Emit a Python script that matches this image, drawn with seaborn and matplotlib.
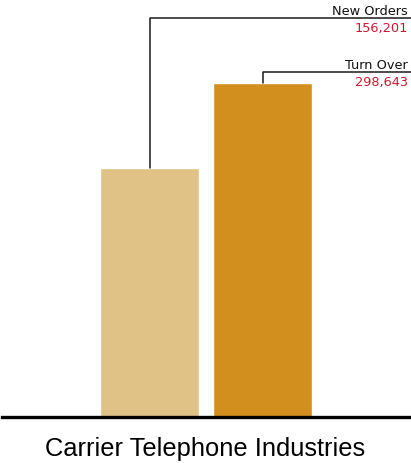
import matplotlib
matplotlib.use("Agg")
import matplotlib.pyplot as plt
import pandas as pd
import seaborn as sns

# Data
metrics = ["New Orders", "Turn Over"]
values = [156201, 298643]
company = "Carrier Telephone Industries"

bar_colors = ["#E0C186", "#D38F1E"]
value_color = "#CF1630"
line_color = "#1a1a1a"

sns.set_theme(style="white")
plt.rcParams["font.family"] = ["DejaVu Sans"]

df = pd.DataFrame({"metric": metrics, "value": values})

fig = plt.figure(figsize=(4.11, 4.63), dpi=100)
ax = fig.add_axes([2 / 411, (463 - 416.5) / 463, 407 / 411, 416.5 / 463])
ax.set_yscale("log")

sns.barplot(data=df, x="metric", y="value", hue="metric", palette=bar_colors,
            width=0.875, saturation=1, legend=False, ax=ax)

ax.set_xlim(-1.303, 2.292)
ax.set_ylim(23500, 562000)

for s in ["left", "right", "top"]:
    ax.spines[s].set_visible(False)
ax.spines["bottom"].set_color("black")
ax.spines["bottom"].set_linewidth(2.4)
ax.set_xticks([])
ax.set_yticks([])
ax.minorticks_off()
ax.set_xlabel("")
ax.set_ylabel("")

# Callouts: leader line from each bar top to a label at the right edge
label_rows = [0.9568, 0.8271]
for i, (name, val, yrow) in enumerate(zip(metrics, values, label_rows)):
    ax.annotate("", xy=(i, val), xycoords="data",
                xytext=(1.006, yrow), textcoords="axes fraction",
                arrowprops=dict(arrowstyle="-", color=line_color, lw=1.1,
                                shrinkA=0, shrinkB=0,
                                connectionstyle="angle,angleA=0,angleB=90,rad=0"),
                annotation_clip=False)
    ax.annotate(name, xy=(0.9975, yrow), xycoords="axes fraction",
                xytext=(0, 2.3), textcoords="offset points",
                ha="right", va="baseline", fontsize=9.3, color="#111111")
    ax.annotate(f"{val:,}", xy=(0.9975, yrow), xycoords="axes fraction",
                xytext=(0, -3.0), textcoords="offset points",
                ha="right", va="top", fontsize=9.3, color=value_color)

fig.text(205 / 411, (463 - 455.7) / 463, company, ha="center", va="baseline",
         fontsize=18.4, family=["Liberation Sans", "DejaVu Sans"], color="black")

fig.savefig("out.png", dpi=100)
